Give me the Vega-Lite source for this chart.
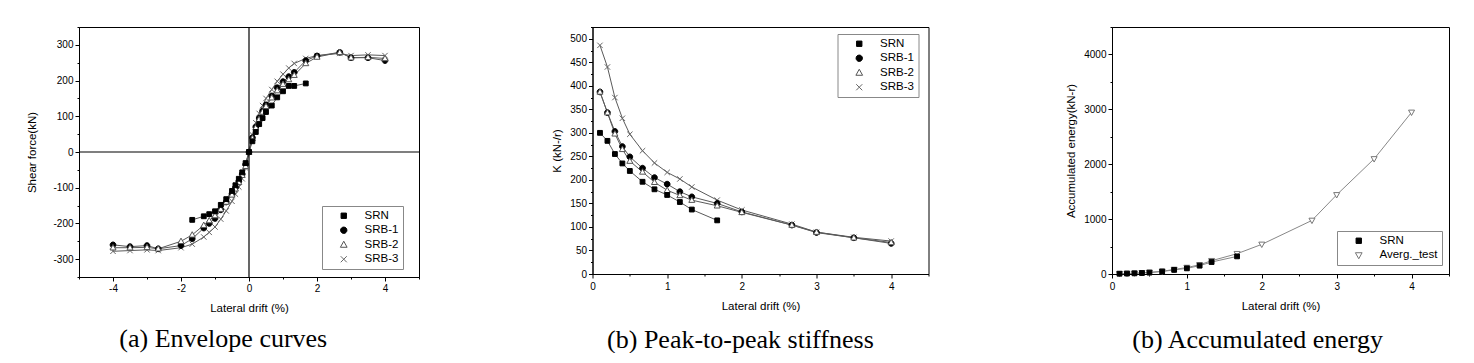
{
  "$schema": "https://vega.github.io/schema/vega-lite/v6.json",
  "background": "white",
  "padding": {"left": 26, "top": 25, "right": 5, "bottom": 0},
  "datasets": {
    "envelope": [
      {"series": "SRB-3", "drift": -4.0, "force": -278}, {"series": "SRB-3", "drift": -3.5, "force": -276}, {"series": "SRB-3", "drift": -3.0, "force": -274}, {"series": "SRB-3", "drift": -2.67, "force": -276}, {"series": "SRB-3", "drift": -2.0, "force": -268}, {"series": "SRB-3", "drift": -1.67, "force": -258}, {"series": "SRB-3", "drift": -1.33, "force": -238}, {"series": "SRB-3", "drift": -1.17, "force": -225}, {"series": "SRB-3", "drift": -1.0, "force": -210}, {"series": "SRB-3", "drift": -0.83, "force": -188}, {"series": "SRB-3", "drift": -0.67, "force": -165}, {"series": "SRB-3", "drift": -0.5, "force": -138}, {"series": "SRB-3", "drift": -0.4, "force": -118}, {"series": "SRB-3", "drift": -0.3, "force": -98}, {"series": "SRB-3", "drift": -0.2, "force": -75}, {"series": "SRB-3", "drift": -0.1, "force": -45}, {"series": "SRB-3", "drift": 0, "force": 0}, {"series": "SRB-3", "drift": 0.1, "force": 48}, {"series": "SRB-3", "drift": 0.2, "force": 82}, {"series": "SRB-3", "drift": 0.3, "force": 108}, {"series": "SRB-3", "drift": 0.4, "force": 130}, {"series": "SRB-3", "drift": 0.5, "force": 150}, {"series": "SRB-3", "drift": 0.67, "force": 175}, {"series": "SRB-3", "drift": 0.83, "force": 198}, {"series": "SRB-3", "drift": 1.0, "force": 218}, {"series": "SRB-3", "drift": 1.17, "force": 235}, {"series": "SRB-3", "drift": 1.33, "force": 248}, {"series": "SRB-3", "drift": 1.67, "force": 262}, {"series": "SRB-3", "drift": 2.0, "force": 270}, {"series": "SRB-3", "drift": 2.67, "force": 276}, {"series": "SRB-3", "drift": 3.0, "force": 270}, {"series": "SRB-3", "drift": 3.5, "force": 272}, {"series": "SRB-3", "drift": 4.0, "force": 270},
      {"series": "SRB-1", "drift": -4.0, "force": -260}, {"series": "SRB-1", "drift": -3.5, "force": -265}, {"series": "SRB-1", "drift": -3.0, "force": -262}, {"series": "SRB-1", "drift": -2.67, "force": -271}, {"series": "SRB-1", "drift": -2.0, "force": -262}, {"series": "SRB-1", "drift": -1.67, "force": -243}, {"series": "SRB-1", "drift": -1.33, "force": -213}, {"series": "SRB-1", "drift": -1.17, "force": -200}, {"series": "SRB-1", "drift": -1.0, "force": -186}, {"series": "SRB-1", "drift": -0.83, "force": -162}, {"series": "SRB-1", "drift": -0.67, "force": -140}, {"series": "SRB-1", "drift": -0.5, "force": -117}, {"series": "SRB-1", "drift": -0.4, "force": -100}, {"series": "SRB-1", "drift": -0.3, "force": -82}, {"series": "SRB-1", "drift": -0.2, "force": -62}, {"series": "SRB-1", "drift": -0.1, "force": -35}, {"series": "SRB-1", "drift": 0, "force": 0}, {"series": "SRB-1", "drift": 0.1, "force": 40}, {"series": "SRB-1", "drift": 0.2, "force": 70}, {"series": "SRB-1", "drift": 0.3, "force": 95}, {"series": "SRB-1", "drift": 0.4, "force": 115}, {"series": "SRB-1", "drift": 0.5, "force": 132}, {"series": "SRB-1", "drift": 0.67, "force": 157}, {"series": "SRB-1", "drift": 0.83, "force": 180}, {"series": "SRB-1", "drift": 1.0, "force": 197}, {"series": "SRB-1", "drift": 1.17, "force": 211}, {"series": "SRB-1", "drift": 1.33, "force": 223}, {"series": "SRB-1", "drift": 1.67, "force": 256}, {"series": "SRB-1", "drift": 2.0, "force": 269}, {"series": "SRB-1", "drift": 2.67, "force": 279}, {"series": "SRB-1", "drift": 3.0, "force": 264}, {"series": "SRB-1", "drift": 3.5, "force": 264}, {"series": "SRB-1", "drift": 4.0, "force": 256},
      {"series": "SRB-2", "drift": -4.0, "force": -268}, {"series": "SRB-2", "drift": -3.5, "force": -268}, {"series": "SRB-2", "drift": -3.0, "force": -267}, {"series": "SRB-2", "drift": -2.67, "force": -271}, {"series": "SRB-2", "drift": -2.0, "force": -250}, {"series": "SRB-2", "drift": -1.67, "force": -232}, {"series": "SRB-2", "drift": -1.33, "force": -205}, {"series": "SRB-2", "drift": -1.17, "force": -192}, {"series": "SRB-2", "drift": -1.0, "force": -178}, {"series": "SRB-2", "drift": -0.83, "force": -160}, {"series": "SRB-2", "drift": -0.67, "force": -140}, {"series": "SRB-2", "drift": -0.5, "force": -120}, {"series": "SRB-2", "drift": -0.4, "force": -103}, {"series": "SRB-2", "drift": -0.3, "force": -85}, {"series": "SRB-2", "drift": -0.2, "force": -65}, {"series": "SRB-2", "drift": -0.1, "force": -40}, {"series": "SRB-2", "drift": 0, "force": 0}, {"series": "SRB-2", "drift": 0.1, "force": 38}, {"series": "SRB-2", "drift": 0.2, "force": 68}, {"series": "SRB-2", "drift": 0.3, "force": 92}, {"series": "SRB-2", "drift": 0.4, "force": 112}, {"series": "SRB-2", "drift": 0.5, "force": 128}, {"series": "SRB-2", "drift": 0.67, "force": 152}, {"series": "SRB-2", "drift": 0.83, "force": 172}, {"series": "SRB-2", "drift": 1.0, "force": 190}, {"series": "SRB-2", "drift": 1.17, "force": 203}, {"series": "SRB-2", "drift": 1.33, "force": 215}, {"series": "SRB-2", "drift": 1.67, "force": 248}, {"series": "SRB-2", "drift": 2.0, "force": 266}, {"series": "SRB-2", "drift": 2.67, "force": 279}, {"series": "SRB-2", "drift": 3.0, "force": 264}, {"series": "SRB-2", "drift": 3.5, "force": 265}, {"series": "SRB-2", "drift": 4.0, "force": 262},
      {"series": "SRN", "drift": -1.67, "force": -190}, {"series": "SRN", "drift": -1.33, "force": -180}, {"series": "SRN", "drift": -1.17, "force": -174}, {"series": "SRN", "drift": -1.0, "force": -166}, {"series": "SRN", "drift": -0.83, "force": -148}, {"series": "SRN", "drift": -0.67, "force": -132}, {"series": "SRN", "drift": -0.5, "force": -109}, {"series": "SRN", "drift": -0.4, "force": -93}, {"series": "SRN", "drift": -0.3, "force": -75}, {"series": "SRN", "drift": -0.2, "force": -57}, {"series": "SRN", "drift": -0.1, "force": -31}, {"series": "SRN", "drift": 0, "force": 0}, {"series": "SRN", "drift": 0.1, "force": 30}, {"series": "SRN", "drift": 0.2, "force": 56}, {"series": "SRN", "drift": 0.3, "force": 78}, {"series": "SRN", "drift": 0.4, "force": 95}, {"series": "SRN", "drift": 0.5, "force": 112}, {"series": "SRN", "drift": 0.67, "force": 130}, {"series": "SRN", "drift": 0.83, "force": 153}, {"series": "SRN", "drift": 1.0, "force": 170}, {"series": "SRN", "drift": 1.17, "force": 185}, {"series": "SRN", "drift": 1.33, "force": 185}, {"series": "SRN", "drift": 1.67, "force": 192}
    ],
    "stiffness": [
      {"series": "SRB-3", "drift": 0.1, "k": 486}, {"series": "SRB-3", "drift": 0.2, "k": 440}, {"series": "SRB-3", "drift": 0.3, "k": 375}, {"series": "SRB-3", "drift": 0.4, "k": 331}, {"series": "SRB-3", "drift": 0.5, "k": 297}, {"series": "SRB-3", "drift": 0.67, "k": 262}, {"series": "SRB-3", "drift": 0.83, "k": 236}, {"series": "SRB-3", "drift": 1.0, "k": 216}, {"series": "SRB-3", "drift": 1.17, "k": 202}, {"series": "SRB-3", "drift": 1.33, "k": 185}, {"series": "SRB-3", "drift": 1.67, "k": 157}, {"series": "SRB-3", "drift": 2.0, "k": 136}, {"series": "SRB-3", "drift": 2.67, "k": 106}, {"series": "SRB-3", "drift": 3.0, "k": 89}, {"series": "SRB-3", "drift": 3.5, "k": 78}, {"series": "SRB-3", "drift": 4.0, "k": 70},
      {"series": "SRB-1", "drift": 0.1, "k": 387}, {"series": "SRB-1", "drift": 0.2, "k": 343}, {"series": "SRB-1", "drift": 0.3, "k": 303}, {"series": "SRB-1", "drift": 0.4, "k": 271}, {"series": "SRB-1", "drift": 0.5, "k": 249}, {"series": "SRB-1", "drift": 0.67, "k": 225}, {"series": "SRB-1", "drift": 0.83, "k": 205}, {"series": "SRB-1", "drift": 1.0, "k": 191}, {"series": "SRB-1", "drift": 1.17, "k": 175}, {"series": "SRB-1", "drift": 1.33, "k": 164}, {"series": "SRB-1", "drift": 1.67, "k": 150}, {"series": "SRB-1", "drift": 2.0, "k": 132}, {"series": "SRB-1", "drift": 2.67, "k": 104}, {"series": "SRB-1", "drift": 3.0, "k": 88}, {"series": "SRB-1", "drift": 3.5, "k": 77}, {"series": "SRB-1", "drift": 4.0, "k": 65},
      {"series": "SRB-2", "drift": 0.1, "k": 387}, {"series": "SRB-2", "drift": 0.2, "k": 343}, {"series": "SRB-2", "drift": 0.3, "k": 298}, {"series": "SRB-2", "drift": 0.4, "k": 265}, {"series": "SRB-2", "drift": 0.5, "k": 240}, {"series": "SRB-2", "drift": 0.67, "k": 217}, {"series": "SRB-2", "drift": 0.83, "k": 195}, {"series": "SRB-2", "drift": 1.0, "k": 178}, {"series": "SRB-2", "drift": 1.17, "k": 167}, {"series": "SRB-2", "drift": 1.33, "k": 157}, {"series": "SRB-2", "drift": 1.67, "k": 145}, {"series": "SRB-2", "drift": 2.0, "k": 131}, {"series": "SRB-2", "drift": 2.67, "k": 104}, {"series": "SRB-2", "drift": 3.0, "k": 89}, {"series": "SRB-2", "drift": 3.5, "k": 77}, {"series": "SRB-2", "drift": 4.0, "k": 67},
      {"series": "SRN", "drift": 0.1, "k": 300}, {"series": "SRN", "drift": 0.2, "k": 283}, {"series": "SRN", "drift": 0.3, "k": 255}, {"series": "SRN", "drift": 0.4, "k": 235}, {"series": "SRN", "drift": 0.5, "k": 219}, {"series": "SRN", "drift": 0.67, "k": 196}, {"series": "SRN", "drift": 0.83, "k": 180}, {"series": "SRN", "drift": 1.0, "k": 168}, {"series": "SRN", "drift": 1.17, "k": 153}, {"series": "SRN", "drift": 1.33, "k": 137}, {"series": "SRN", "drift": 1.67, "k": 114}
    ],
    "energy": [
      {"series": "Averg._test", "drift": 0.1, "energy": 6}, {"series": "Averg._test", "drift": 0.2, "energy": 10}, {"series": "Averg._test", "drift": 0.3, "energy": 15}, {"series": "Averg._test", "drift": 0.4, "energy": 22}, {"series": "Averg._test", "drift": 0.5, "energy": 30}, {"series": "Averg._test", "drift": 0.67, "energy": 50}, {"series": "Averg._test", "drift": 0.83, "energy": 82}, {"series": "Averg._test", "drift": 1.0, "energy": 118}, {"series": "Averg._test", "drift": 1.17, "energy": 168}, {"series": "Averg._test", "drift": 1.33, "energy": 242}, {"series": "Averg._test", "drift": 1.67, "energy": 370}, {"series": "Averg._test", "drift": 2.0, "energy": 540}, {"series": "Averg._test", "drift": 2.67, "energy": 976}, {"series": "Averg._test", "drift": 3.0, "energy": 1442}, {"series": "Averg._test", "drift": 3.5, "energy": 2097}, {"series": "Averg._test", "drift": 4.0, "energy": 2945},
      {"series": "SRN", "drift": 0.1, "energy": 5}, {"series": "SRN", "drift": 0.2, "energy": 8}, {"series": "SRN", "drift": 0.3, "energy": 12}, {"series": "SRN", "drift": 0.4, "energy": 18}, {"series": "SRN", "drift": 0.5, "energy": 25}, {"series": "SRN", "drift": 0.67, "energy": 45}, {"series": "SRN", "drift": 0.83, "energy": 75}, {"series": "SRN", "drift": 1.0, "energy": 103}, {"series": "SRN", "drift": 1.17, "energy": 152}, {"series": "SRN", "drift": 1.33, "energy": 218}, {"series": "SRN", "drift": 1.67, "energy": 321}
    ]
  },
  "spacing": 129.5,
  "resolve": {
    "scale": {"shape": "independent", "fill": "independent", "stroke": "independent"},
    "legend": {"shape": "independent", "fill": "independent", "stroke": "independent"}
  },
  "hconcat": [
    {
      "width": 340,
      "height": 250,
      "title": {"text": "(a) Envelope curves", "offset": 12},
      "data": {"name": "envelope"},
      "resolve": {"axis": {"x": "independent", "y": "independent"}},
      "layer": [
        {
          "mark": {"type": "line", "strokeWidth": 1, "color": "#5a5a5a"},
          "encoding": {
            "x": {"field": "drift", "type": "quantitative", "title": "Lateral drift (%)",
              "scale": {"domain": [-5, 5], "nice": false, "zero": false},
              "axis": {"orient": "bottom", "values": [-4, -2, 0, 2, 4], "labelExpr": "toString(datum.value)", "labelOverlap": false, "tickSize": 4, "labelPadding": 2, "titlePadding": 9}},
            "y": {"field": "force", "type": "quantitative", "title": "Shear force(kN)",
              "scale": {"domain": [-350, 350], "nice": false, "zero": false},
              "axis": {"orient": "left", "values": [-300, -200, -100, 0, 100, 200, 300], "labelExpr": "toString(datum.value)", "labelOverlap": false, "tickSize": 4, "labelPadding": 2, "titlePadding": 15}},
            "detail": {"field": "series", "type": "nominal"}
          }
        },
        {
          "data": {"values": [{"z": 0}]},
          "mark": {"type": "rule", "color": "black", "strokeWidth": 1.2},
          "encoding": {"x": {"field": "z", "type": "quantitative", "axis": null}}
        },
        {
          "data": {"values": [{"z": 0}]},
          "mark": {"type": "rule", "color": "black", "strokeWidth": 1.2},
          "encoding": {"y": {"field": "z", "type": "quantitative", "axis": null}}
        },
        {
          "mark": {"type": "point", "opacity": 1, "strokeWidth": 1, "size": 36},
          "encoding": {
            "x": {"field": "drift", "type": "quantitative", "axis": {"orient": "bottom", "values": [-5, -3, -1, 1, 3, 5], "labels": false, "domain": false, "tickSize": 2, "title": null}},
            "y": {"field": "force", "type": "quantitative", "axis": {"orient": "left", "values": [-350, -250, -150, -50, 50, 150, 250, 350], "labels": false, "domain": false, "tickSize": 2, "title": null}},
            "shape": {"field": "series", "type": "nominal",
              "scale": {"domain": ["SRN", "SRB-1", "SRB-2", "SRB-3"], "range": ["M-0.8,-0.8H0.8V0.8H-0.8Z", "M-0.95,0A0.95,0.95 0 1,0 0.95,0A0.95,0.95 0 1,0 -0.95,0Z", "M0,-1.05L1,0.75H-1Z", "M-0.9,-0.9L0.9,0.9M-0.9,0.9L0.9,-0.9"]},
              "legend": {"title": null, "orient": "none", "legendX": 243, "legendY": 179}},
            "fill": {"field": "series", "type": "nominal",
              "scale": {"domain": ["SRN", "SRB-1", "SRB-2", "SRB-3"], "range": ["#000000", "#000000", "#ffffff", "transparent"]}},
            "stroke": {"field": "series", "type": "nominal",
              "scale": {"domain": ["SRN", "SRB-1", "SRB-2", "SRB-3"], "range": ["#000000", "#000000", "#555555", "#666666"]}}
          }
        }
      ]
    },
    {
      "spacing": 135.5,
      "resolve": {
        "scale": {"shape": "independent", "fill": "independent", "stroke": "independent"},
        "legend": {"shape": "independent", "fill": "independent", "stroke": "independent"}
      },
      "hconcat": [
        {
          "width": 336,
          "height": 247,
          "title": {"text": "(b) Peak-to-peak stiffness", "offset": 15},
          "data": {"name": "stiffness"},
          "resolve": {"axis": {"x": "independent", "y": "independent"}},
          "layer": [
            {
              "mark": {"type": "line", "strokeWidth": 1, "color": "#5a5a5a"},
              "encoding": {
                "x": {"field": "drift", "type": "quantitative", "title": "Lateral drift (%)",
                  "scale": {"domain": [0, 4.5], "nice": false, "zero": false},
                  "axis": {"orient": "bottom", "values": [0, 1, 2, 3, 4], "labelExpr": "toString(datum.value)", "labelOverlap": false, "tickSize": 4, "labelPadding": 3, "titlePadding": 9}},
                "y": {"field": "k", "type": "quantitative", "title": "K (kN-/r)",
                  "scale": {"domain": [0, 525], "nice": false, "zero": false},
                  "axis": {"orient": "left", "values": [0, 50, 100, 150, 200, 250, 300, 350, 400, 450, 500], "labelExpr": "toString(datum.value)", "labelOverlap": false, "tickSize": 4, "labelPadding": 2, "titlePadding": 7}},
                "detail": {"field": "series", "type": "nominal"}
              }
            },
            {
              "mark": {"type": "point", "opacity": 1, "strokeWidth": 1, "size": 36},
              "encoding": {
                "x": {"field": "drift", "type": "quantitative", "axis": {"orient": "bottom", "values": [0.5, 1.5, 2.5, 3.5, 4.5], "labels": false, "domain": false, "tickSize": 2, "title": null}},
                "y": {"field": "k", "type": "quantitative", "axis": {"orient": "left", "values": [25, 75, 125, 175, 225, 275, 325, 375, 425, 475, 525], "labels": false, "domain": false, "tickSize": 2, "title": null}},
                "shape": {"field": "series", "type": "nominal",
                  "scale": {"domain": ["SRN", "SRB-1", "SRB-2", "SRB-3"], "range": ["M-0.8,-0.8H0.8V0.8H-0.8Z", "M-0.95,0A0.95,0.95 0 1,0 0.95,0A0.95,0.95 0 1,0 -0.95,0Z", "M0,-1.05L1,0.75H-1Z", "M-0.9,-0.9L0.9,0.9M-0.9,0.9L0.9,-0.9"]},
                  "legend": {"title": null, "orient": "none", "legendX": 245, "legendY": 7}},
                "fill": {"field": "series", "type": "nominal",
                  "scale": {"domain": ["SRN", "SRB-1", "SRB-2", "SRB-3"], "range": ["#000000", "#000000", "#ffffff", "transparent"]}},
                "stroke": {"field": "series", "type": "nominal",
                  "scale": {"domain": ["SRN", "SRB-1", "SRB-2", "SRB-3"], "range": ["#000000", "#000000", "#555555", "#666666"]}}
              }
            }
          ]
        },
        {
          "width": 337,
          "height": 247,
          "title": {"text": "(b) Accumulated energy", "offset": 15},
          "data": {"name": "energy"},
          "resolve": {"axis": {"x": "independent", "y": "independent"}},
          "layer": [
            {
              "mark": {"type": "line", "strokeWidth": 1, "color": "#888888"},
              "encoding": {
                "x": {"field": "drift", "type": "quantitative", "title": "Lateral drift (%)",
                  "scale": {"domain": [0, 4.5], "nice": false, "zero": false},
                  "axis": {"orient": "bottom", "values": [0, 1, 2, 3, 4], "labelExpr": "toString(datum.value)", "labelOverlap": false, "tickSize": 4, "labelPadding": 3, "titlePadding": 9}},
                "y": {"field": "energy", "type": "quantitative", "title": "Accumulated energy(kN-r)",
                  "scale": {"domain": [0, 4500], "nice": false, "zero": false},
                  "axis": {"orient": "left", "values": [0, 1000, 2000, 3000, 4000], "labelExpr": "toString(datum.value)", "labelOverlap": false, "tickSize": 4, "labelPadding": 2, "titlePadding": 7}},
                "detail": {"field": "series", "type": "nominal"}
              }
            },
            {
              "mark": {"type": "point", "opacity": 1, "strokeWidth": 1, "size": 36},
              "encoding": {
                "x": {"field": "drift", "type": "quantitative", "axis": {"orient": "bottom", "values": [0.5, 1.5, 2.5, 3.5, 4.5], "labels": false, "domain": false, "tickSize": 2, "title": null}},
                "y": {"field": "energy", "type": "quantitative", "axis": {"orient": "left", "values": [500, 1500, 2500, 3500, 4500], "labels": false, "domain": false, "tickSize": 2, "title": null}},
                "shape": {"field": "series", "type": "nominal",
                  "scale": {"domain": ["SRN", "Averg._test"], "range": ["M-0.8,-0.8H0.8V0.8H-0.8Z", "M0,1.05L1,-0.75H-1Z"]},
                  "legend": {"title": null, "orient": "none", "legendX": 225, "legendY": 204}},
                "fill": {"field": "series", "type": "nominal",
                  "scale": {"domain": ["SRN", "Averg._test"], "range": ["#000000", "#ffffff"]}},
                "stroke": {"field": "series", "type": "nominal",
                  "scale": {"domain": ["SRN", "Averg._test"], "range": ["#000000", "#777777"]}}
              }
            }
          ]
        }
      ]
    }
  ],
  "config": {
    "view": {"stroke": "black", "strokeWidth": 1},
    "axis": {
      "labelFont": "Liberation Sans", "labelFontSize": 10, "labelColor": "black",
      "titleFont": "Liberation Sans", "titleFontSize": 11.5, "titleFontWeight": "normal", "titleColor": "black",
      "domainColor": "black", "domainWidth": 1, "tickColor": "black", "tickWidth": 1,
      "grid": false, "labelFlush": false
    },
    "legend": {
      "labelFont": "Liberation Sans", "labelFontSize": 11.5, "labelColor": "black",
      "symbolSize": 45, "symbolOffset": 12, "labelOffset": 15, "rowPadding": 1.5, "padding": 4,
      "strokeColor": "#888888", "fillColor": "white", "symbolStrokeWidth": 1
    },
    "title": {"font": "Liberation Serif", "fontSize": 26, "fontWeight": "normal", "orient": "bottom", "anchor": "middle", "frame": "bounds", "color": "black"}
  }
}
